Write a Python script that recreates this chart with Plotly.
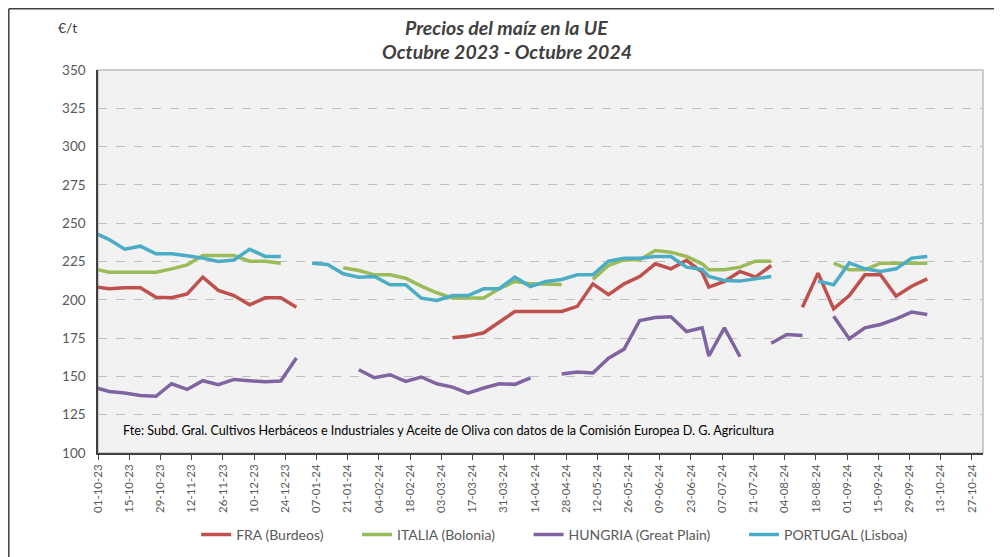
import plotly.graph_objects as go

# Dates: Fridays until end of June 2024, then Mondays
dates = [
    "2023-09-29", "2023-10-06", "2023-10-13", "2023-10-20", "2023-10-27",
    "2023-11-03", "2023-11-10", "2023-11-17", "2023-11-24", "2023-12-01",
    "2023-12-08", "2023-12-15", "2023-12-22", "2023-12-29", "2024-01-05",
    "2024-01-12", "2024-01-19", "2024-01-26", "2024-02-02", "2024-02-09",
    "2024-02-16", "2024-02-23", "2024-03-01", "2024-03-08", "2024-03-15",
    "2024-03-22", "2024-03-29", "2024-04-05", "2024-04-12", "2024-04-19",
    "2024-04-26", "2024-05-03", "2024-05-10", "2024-05-17", "2024-05-24",
    "2024-05-31", "2024-06-07", "2024-06-14", "2024-06-21", "2024-06-28",
    "2024-07-01", "2024-07-08", "2024-07-15", "2024-07-22", "2024-07-29",
    "2024-08-05", "2024-08-12", "2024-08-19", "2024-08-26", "2024-09-02",
    "2024-09-09", "2024-09-16", "2024-09-23", "2024-09-30", "2024-10-07",
]

fra = [
    208.5, 207.2, 207.8, 207.8, 201.7, 201.3, 203.9, 214.8, 206.1, 202.8,
    196.7, 201.3, 201.3, 195.2, None, None, None, None, None, None,
    None, None, None, 175.2, 176.3, 178.5, 185.4, 192.4, 192.4, 192.4,
    192.4, 195.7, 210.4, 203.3, 210.4, 215.2, 223.5, 220.2, 225.7, 218.0,
    208.3, 212.0, 218.5, 214.8, 222.4, None, 195.2, 217.4, 194.1, 202.8,
    216.3, 216.3, 202.4, 208.9, 213.7,
]

italia = [
    220.2, 218.0, 218.0, 218.0, 218.0, 220.2, 222.8, 228.9, 228.9, 228.9,
    225.2, 225.2, 223.9, None, None, None, 220.9, 219.1, 216.3, 216.3,
    214.1, 208.9, 204.6, 201.1, 201.1, 201.1, 207.2, 212.0, 210.4, 210.0,
    210.0, None, 213.3, 222.4, 226.1, 226.1, 232.2, 231.1, 228.3, 223.5,
    219.6, 219.6, 221.3, 225.2, 225.2, None, None, None, 223.9, 219.6,
    219.6, 223.9, 223.9, 223.9, 223.9,
]

hungria = [
    143.0, 140.2, 139.1, 137.6, 137.0, 145.2, 141.5, 147.2, 144.6, 148.0,
    147.2, 146.5, 147.0, 162.0, None, None, None, 154.3, 149.1, 151.1,
    146.7, 149.6, 145.2, 143.0, 139.1, 142.4, 145.2, 144.8, 149.1, None,
    151.5, 152.8, 152.2, 161.9, 167.8, 186.5, 188.5, 188.9, 179.3, 181.7,
    163.3, 181.7, 162.8, None, 171.7, 177.4, 176.7, None, 189.3, 174.6,
    181.7, 183.9, 187.6, 192.0, 190.4,
]

portugal = [
    244.0, 239.3, 233.0, 235.0, 230.0, 230.0, 228.7, 227.2, 225.0, 226.0,
    233.0, 228.3, 228.3, None, 223.9, 223.0, 217.0, 214.8, 215.2, 209.8,
    209.8, 201.1, 199.6, 202.8, 202.8, 207.2, 207.2, 214.8, 208.7, 212.0,
    213.3, 216.3, 216.3, 225.2, 227.2, 227.2, 228.3, 228.3, 221.3, 219.8,
    215.2, 212.6, 212.2, 213.7, 215.2, None, None, 212.2, 209.8, 224.1,
    220.2, 218.5, 220.2, 227.2, 228.3,
]

series_names = ["FRA (Burdeos)", "ITALIA (Bolonia)", "HUNGRIA (Great Plain)", "PORTUGAL (Lisboa)"]
series_values = [fra, italia, hungria, portugal]
series_colors = ["#C0504D", "#9BBB59", "#8064A2", "#4BACC6"]

tick_dates = [
    "2023-10-01", "2023-10-15", "2023-10-29", "2023-11-12", "2023-11-26",
    "2023-12-10", "2023-12-24", "2024-01-07", "2024-01-21", "2024-02-04",
    "2024-02-18", "2024-03-03", "2024-03-17", "2024-03-31", "2024-04-14",
    "2024-04-28", "2024-05-12", "2024-05-26", "2024-06-09", "2024-06-23",
    "2024-07-07", "2024-07-21", "2024-08-04", "2024-08-18", "2024-09-01",
    "2024-09-15", "2024-09-29", "2024-10-13", "2024-10-27",
]
tick_labels = [d[8:10] + "-" + d[5:7] + "-" + d[2:4] for d in tick_dates]

FONT = "Lato"
GREY = "#595959"
PAD = "\u00a0" * 8

fig = go.Figure()
for i, (name, vals, col) in enumerate(zip(series_names, series_values, series_colors)):
    label = name + (PAD if i < len(series_names) - 1 else "")
    fig.add_trace(go.Scatter(
        x=dates, y=vals, name=label, mode="lines",
        line=dict(color=col, width=3.5), connectgaps=False,
    ))

fig.update_layout(
    width=994, height=549,
    margin=dict(l=90, r=19, t=62, b=104, autoexpand=False),
    paper_bgcolor="white",
    plot_bgcolor="#F2F2F2",
    font=dict(family=FONT, color=GREY, size=13),
    showlegend=True,
    legend=dict(
        orientation="h", x=0.516, xanchor="center", y=-0.214, yanchor="middle",
        font=dict(family=FONT, size=14, color=GREY),
        bgcolor="rgba(0,0,0,0)", itemwidth=30,
    ),
    xaxis=dict(
        type="date",
        range=["2023-10-01", "2024-11-01"],
        tickmode="array", tickvals=tick_dates, ticktext=tick_labels,
        tickangle=-90,
        tickfont=dict(family=FONT, size=11.5, color=GREY),
        showgrid=False, zeroline=False, automargin=False,
        showline=True, linecolor="#404040", linewidth=1.5,
        ticks="outside", ticklen=5, tickcolor="#404040", tickwidth=1.2,
    ),
    yaxis=dict(
        range=[100, 350], dtick=25, tick0=100,
        tickfont=dict(family=FONT, size=13.5, color=GREY),
        showgrid=True, gridcolor="#BFBFBF", griddash="dash", gridwidth=1,
        zeroline=False, automargin=False,
        showline=True, linecolor="#404040", linewidth=1.5,
        ticks="", ticklabelstandoff=8,
    ),
    shapes=[
        dict(type="rect", xref="paper", yref="paper", x0=0, x1=1, y0=0, y1=1,
             line=dict(color="#BFBFBF", width=1.5), layer="below"),
        dict(type="line", xref="paper", yref="paper", x0=-0.1008, x1=1.05,
             y0=1.1599, y1=1.1599, line=dict(color="#404040", width=1.5)),
        dict(type="line", xref="paper", yref="paper", x0=-0.1008, x1=-0.1008,
             y0=1.1599, y1=-0.35, line=dict(color="#404040", width=1.5)),
    ],
    annotations=[
        dict(text="<b><i>Precios del maíz en la UE</i></b>", xref="paper", yref="paper",
             x=0.4621, y=1.1097, xanchor="center", yanchor="middle", showarrow=False,
             font=dict(family=FONT, size=19.5, color="#404040")),
        dict(text="<b><i>Octubre 2023 - Octubre 2024</i></b>", xref="paper", yref="paper",
             x=0.4621, y=1.047, xanchor="center", yanchor="middle", showarrow=False,
             font=dict(family=FONT, size=19.5, color="#404040")),
        dict(text="€/t", xref="paper", yref="paper",
             x=-0.0339, y=1.1097, xanchor="center", yanchor="middle", showarrow=False,
             font=dict(family=FONT, size=14, color="#404040")),
        dict(text="Fte: Subd. Gral. Cultivos Herbáceos e Industriales y Aceite de Oliva con datos de la Comisión Europea D. G. Agricultura",
             xref="paper", yref="paper", x=0.026, y=0.0582, xanchor="left", yanchor="middle",
             showarrow=False, font=dict(family=FONT, size=12.6, color="#000000")),
    ],
)

fig.write_html("out.html")
